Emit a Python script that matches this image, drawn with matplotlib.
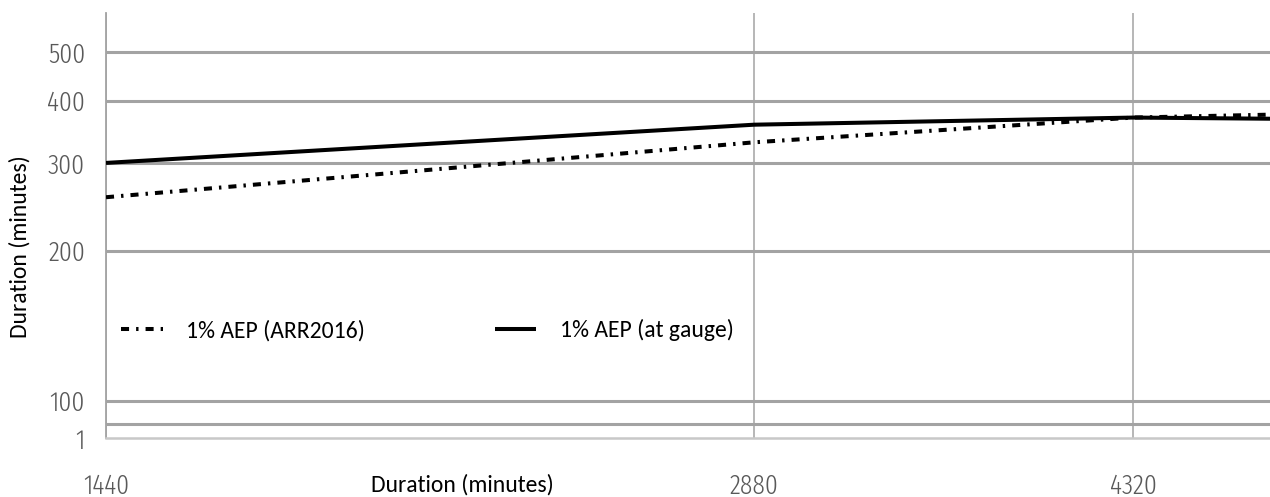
import matplotlib
matplotlib.use('Agg')
import matplotlib.pyplot as plt
from matplotlib.ticker import NullLocator, NullFormatter

# Werte
durations = [1440, 2880, 4320, 5000]
arr2016 = [256, 330, 370, 375]
gauge = [300, 358, 370, 368]

x_ticks = [1440, 2880, 4320]
x_labels = ['1440', '2880', '4320']
y_ticks = [84.1, 89.7, 100, 200, 300, 400, 500]
y_labels = ['1', '', '100', '200', '300', '400', '500']

grid_col = '#a3a3a3'
tick_font = dict(family='Fira Sans Extra Condensed', weight=300, size=20, color='#595959')

fig = plt.figure(figsize=(12.7, 4.97), dpi=100)
ax = fig.add_axes([106 / 1270, 59 / 497, 1164 / 1270, 425 / 497])

ax.plot(durations, arr2016, color='black', lw=2.9,
        linestyle=(0, (2.0, 1.75, 0.6, 1.75)), label='1% AEP (ARR2016)', zorder=3)
ax.plot(durations, gauge, color='black', lw=2.9, solid_capstyle='butt',
        label='1% AEP (at gauge)', zorder=3)

ax.set_xscale('log')
ax.set_yscale('log')
ax.set_xlim(1440, 5000)
ax.set_ylim(84.1, 600)

ax.xaxis.set_minor_locator(NullLocator())
ax.yaxis.set_minor_locator(NullLocator())
ax.xaxis.set_minor_formatter(NullFormatter())
ax.yaxis.set_minor_formatter(NullFormatter())

ax.set_xticks(x_ticks)
ax.set_xticklabels(x_labels, fontdict=tick_font)
ax.set_yticks(y_ticks)
ax.set_yticklabels(y_labels, fontdict=tick_font)
ax.tick_params(axis='both', length=0)
ax.tick_params(axis='x', pad=25)
ax.tick_params(axis='y', pad=15)

# Gitter
ax.grid(axis='y', color=grid_col, lw=2.2, zorder=1)
ax.grid(axis='x', color=grid_col, lw=1.1, zorder=1)
ax.yaxis.get_gridlines()[0].set_visible(False)
ax.set_axisbelow(True)

for s in ['top', 'right']:
    ax.spines[s].set_visible(False)
ax.spines['left'].set_color(grid_col)
ax.spines['left'].set_linewidth(1.3)
ax.spines['bottom'].set_color('#c8c8c8')
ax.spines['bottom'].set_linewidth(1.8)

lab_font = dict(family='Carlito', size=17, color='black')
ax.set_xlabel('Duration (minutes)', fontdict=lab_font, va='center')
ax.xaxis.set_label_coords((462 - 106) / 1164, -(485 - 438) / 425)
ax.set_ylabel('Duration (minutes)', fontdict=lab_font, va='center', ha='center')
ax.yaxis.set_label_coords((20 - 106) / 1164, (438 - 247) / 425)

leg = ax.legend(loc='upper left', bbox_to_anchor=(0.001, (438 - 305) / 425),
                ncol=2, prop={'family': 'Carlito', 'size': 17},
                frameon=True, facecolor='white', edgecolor='none', framealpha=1,
                fancybox=False, borderaxespad=0, borderpad=0.6,
                handlelength=1.75, handletextpad=1.0, columnspacing=5.5)
leg.set_zorder(5)

fig.savefig('out.png', dpi=100)
